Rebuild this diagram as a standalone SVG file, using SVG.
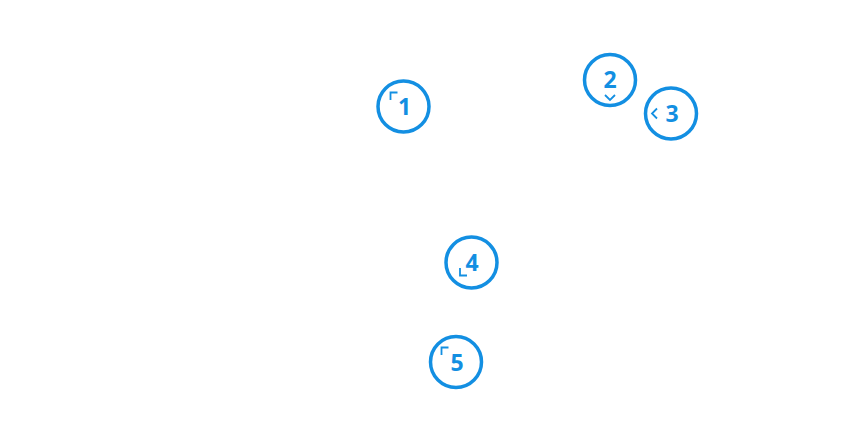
<svg xmlns="http://www.w3.org/2000/svg" width="850" height="442" viewBox="0 0 850 442">
<style>
.c{fill:#fff;stroke:#138fe2;stroke-width:3.5}
.t{font-family:"Noto Sans","Open Sans",sans-serif;font-weight:bold;font-size:23px;fill:#138fe2;text-anchor:middle}
.m{fill:none;stroke:#138fe2;stroke-width:1.8}
</style>
<rect width="850" height="442" fill="#fff"/>
<g id="node1"><circle class="c" cx="403.5" cy="106.5" r="25.5"/><path class="m" d="M390.5,100V92.5H397.5"/><text class="t" x="404.5" y="115">1</text></g>
<g id="node2"><circle class="c" cx="610" cy="80" r="25.5"/><path class="m" d="M605,95L610,100L615,95"/><text class="t" x="610" y="88">2</text></g>
<g id="node3"><circle class="c" cx="671" cy="113.5" r="25.5"/><path class="m" d="M657,108.5L652,113.5L657,118.5"/><text class="t" x="672" y="122">3</text></g>
<g id="node4"><circle class="c" cx="471.5" cy="262.5" r="25.5"/><path class="m" d="M460,268V275.5H467"/><text class="t" x="472" y="271">4</text></g>
<g id="node5"><circle class="c" cx="456" cy="362" r="25.5"/><path class="m" d="M441.5,355V347.5H448.5"/><text class="t" x="457" y="371">5</text></g>
<g id="connectors"></g>
</svg>
